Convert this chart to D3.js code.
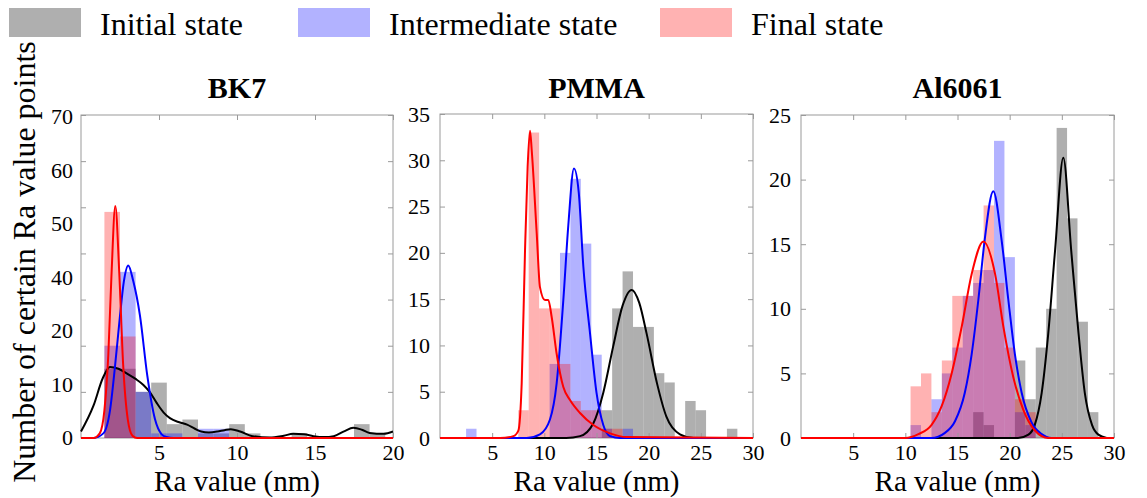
<!DOCTYPE html>
<html>
<head>
<meta charset="utf-8">
<script src="https://cdn.jsdelivr.net/npm/d3@7"></script>
<style>
  body { margin: 0; background: #fff; }
  text { font-family: "Liberation Serif", "Times New Roman", serif; fill: #000; }
</style>
</head>
<body>
<script>
var legendLabels = ["Initial state", "Intermediate state", "Final state"];
var panelTitles = ["BK7", "PMMA", "Al6061"];
var yTitle = "Number of certain Ra value points";
var xTitle = "Ra value (nm)";

// BK7 y labels as printed in the figure (they don't line up with the ticks)
var bk7YLabels = ["0", "10", "20", "40", "50", "60", "70"];

// histograms: [bin centre, count], bins 1 nm wide
var bk7Initial = [[2,15],[3,15],[4,10],[5,12],[6,3],[7,4],[8,1],[9,1],[10,3],[11,1],[14,1],[18,3],[19,1]];
var bk7Intermediate = [[2,20],[3,36],[4,10],[5,1],[6,1],[8,2],[9,2]];
var bk7Final = [[2,49],[3,22]];

var pmmaInitial = [[16,3],[17,14],[18,18],[19,12],[20,12],[21,7],[22,6],[24,4],[25,3],[28,1]];
var pmmaIntermediate = [[3,1],[11,8],[12,20],[13,28],[14,21],[15,9],[16,1],[18,1]];
var pmmaFinal = [[8,3],[9,33],[10,14],[11,14],[12,8],[13,4],[14,3],[15,3],[16,1],[17,1]];

var alInitial = [[17,2],[18,1],[21,6],[22,3],[23,7],[24,10],[25,24],[26,17],[27,9],[28,2]];
var alIntermediate = [[11,1],[13,3],[14,5],[15,7],[16,11],[17,12],[18,13],[19,23],[20,14],[21,2],[22,1]];
var alFinal = [[11,4],[12,5],[13,2],[14,6],[15,11],[16,11],[17,13],[18,18],[19,12],[20,7],[21,3],[22,2]];

// fitted curves: [x, y]
var bk7InitialCurve = [[0,1.4],[0.8,7],[1.4,13],[1.86,15.4],[2.4,15],[2.93,14],[3.5,12.8],[4.0,11.5],[4.4,10],[4.85,7.6],[5.3,5.5],[5.7,4.3],[6.3,3.4],[6.8,2.9],[7.3,2],[7.7,1.4],[8.2,1.2],[8.75,1.4],[9.2,1.7],[9.6,1.9],[10.2,1.4],[11,0.4],[12.1,0.1],[13,0.5],[13.6,0.9],[14.3,0.8],[14.9,0.4],[15.6,0.2],[16.2,0.4],[16.9,1.5],[17.45,2.2],[18,1.8],[18.5,1.1],[19.4,0.9],[20,1.4]];
var bk7IntermediateCurve = [[0,0],[0.79,0],[1.43,1],[1.86,6],[2.18,15.5],[2.5,26.5],[2.75,34],[3.03,37.4],[3.35,34],[3.78,26.5],[4.25,13.5],[4.74,4.1],[5.17,0.8],[5.49,0.2],[5.92,0],[20,0]];
var bk7FinalCurve = [[0,0],[0.8,0],[1.2,1],[1.5,6],[1.75,18],[1.95,35],[2.2,50.3],[2.45,36],[2.7,16],[3.0,4],[3.3,0.5],[3.6,0],[20,0]];

var pmmaInitialCurve = [[0,0],[12.1,0],[13.42,0.2],[14.7,1.6],[15.65,4.9],[16.6,9.9],[17.5,14.3],[18.37,16],[19.1,14.6],[19.8,11.3],[20.8,5.9],[21.7,2.3],[23,0.4],[24.3,0],[30,0]];
var pmmaIntermediateCurve = [[0,0],[8.3,0],[9.58,0.4],[10.54,2],[11.18,5.9],[11.82,14.9],[12.3,23],[12.84,29.1],[13.3,26.5],[13.74,18.5],[14.38,11.3],[15.0,4.9],[15.65,1.4],[16.3,0.2],[17.25,0],[30,0]];
var pmmaFinalCurve = [[0,0],[5.75,0],[7.03,0.2],[7.51,0.8],[7.83,5.9],[8.15,20.3],[8.4,29.3],[8.63,33.2],[8.79,31.1],[9.27,22.1],[9.58,16.3],[10.06,14.9],[10.38,14.9],[10.7,13.1],[11.18,9.1],[11.82,5.5],[12.46,4.1],[13.42,2.7],[14.7,1.4],[16.3,0.5],[17.9,0.1],[30,0]];

var alInitialCurve = [[0,0],[20.8,0],[21.8,0.26],[22.4,1],[23.07,3.5],[23.7,8.1],[24.35,14.5],[25.14,21.7],[25.9,14.5],[26.6,8.1],[27.2,3.5],[27.9,1],[28.5,0.26],[29.3,0]];
var alIntermediateCurve = [[0,0],[12.5,0],[13.8,0.4],[14.76,1.3],[15.7,3.5],[16.36,6.5],[17.0,10.7],[17.6,15.3],[18.43,19.1],[19.23,15.3],[19.87,10.7],[20.5,6.5],[21.15,3.5],[22.1,1.2],[23.07,0.3],[24,0],[30,0]];
var alFinalCurve = [[0,0],[10,0],[11.25,0.3],[12.5,1],[13.5,2.5],[14.44,5],[15.4,8.6],[16.36,12.7],[17.48,15.2],[18.6,12.7],[19.4,8.6],[20.35,4.7],[21.3,2.2],[22.4,0.6],[23.7,0],[30,0]];

var w = 1147;
var h = 498;

var svg = d3.select("body").append("svg")
  .attr("width", w)
  .attr("height", h);

var barFill = ["#7a7a7a", "#0000ff", "#ff0000"];
var barOpacity = [0.6, 0.3, 0.3];
var lineColor = ["#000", "#0000ff", "#ff0000"];

var panels = [
  { title: panelTitles[0], left: 81, right: 393, top: 115, bottom: 438, xMax: 20, yMax: 70,
    xTicks: [5, 10, 15, 20], yTicks: d3.range(0, 71, 10), yLabels: bk7YLabels,
    bars: [bk7Initial, bk7Intermediate, bk7Final],
    curves: [bk7InitialCurve, bk7IntermediateCurve, bk7FinalCurve] },
  { title: panelTitles[1], left: 440, right: 753, top: 114, bottom: 438, xMax: 30, yMax: 35,
    xTicks: [5, 10, 15, 20, 25, 30], yTicks: d3.range(0, 36, 5), yLabels: null,
    bars: [pmmaInitial, pmmaIntermediate, pmmaFinal],
    curves: [pmmaInitialCurve, pmmaIntermediateCurve, pmmaFinalCurve] },
  { title: panelTitles[2], left: 801, right: 1114, top: 115, bottom: 438, xMax: 30, yMax: 25,
    xTicks: [5, 10, 15, 20, 25, 30], yTicks: d3.range(0, 26, 5), yLabels: null,
    bars: [alInitial, alIntermediate, alFinal],
    curves: [alInitialCurve, alIntermediateCurve, alFinalCurve] }
];

panels.forEach(function(p) {
  var x = d3.scaleLinear().domain([0, p.xMax]).range([p.left, p.right]);
  var y = d3.scaleLinear().domain([0, p.yMax]).range([p.bottom, p.top]);
  var g = svg.append("g");

  // frame
  g.append("rect")
    .attr("x", p.left).attr("y", p.top)
    .attr("width", p.right - p.left).attr("height", p.bottom - p.top)
    .attr("fill", "none").attr("stroke", "#9a9a9a").attr("stroke-width", 1);

  // bars
  p.bars.forEach(function(data, k) {
    g.append("g").selectAll("rect")
      .data(data)
      .enter().append("rect")
      .attr("x", function(d) { return x(d[0] - 0.5); })
      .attr("width", function(d) { return x(d[0] + 0.5) - x(d[0] - 0.5); })
      .attr("y", function(d) { return y(d[1]); })
      .attr("height", function(d) { return y(0) - y(d[1]); })
      .attr("fill", barFill[k])
      .attr("fill-opacity", barOpacity[k]);
  });

  // inward ticks on all four sides
  var tickStyle = function(sel) {
    sel.attr("font-family", null);
    sel.select(".domain").remove();
    sel.selectAll(".tick line").attr("stroke", "#9a9a9a");
  };
  g.append("g").attr("transform", "translate(0," + p.bottom + ")")
    .call(d3.axisBottom(x).tickValues(p.xTicks).tickSize(-5).tickPadding(6))
    .call(tickStyle)
    .selectAll("text").attr("font-size", 22).attr("fill", "#000");
  g.append("g").attr("transform", "translate(0," + p.top + ")")
    .call(d3.axisTop(x).tickValues(p.xTicks).tickSize(-5).tickFormat(""))
    .call(tickStyle);
  var leftAxis = d3.axisLeft(y).tickValues(p.yTicks).tickSize(-5).tickPadding(10);
  if (p.yLabels) leftAxis.tickFormat("");
  g.append("g").attr("transform", "translate(" + p.left + ",0)")
    .call(leftAxis)
    .call(tickStyle)
    .selectAll("text").attr("font-size", 22).attr("fill", "#000");
  g.append("g").attr("transform", "translate(" + p.right + ",0)")
    .call(d3.axisRight(y).tickValues(p.yTicks).tickSize(-5).tickFormat(""))
    .call(tickStyle);

  if (p.yLabels) {
    var yl = d3.scalePoint().domain(p.yLabels).range([p.bottom, p.top + 2]);
    g.append("g").selectAll("text")
      .data(p.yLabels)
      .enter().append("text")
      .attr("x", p.left - 8)
      .attr("y", function(d) { return yl(d); })
      .attr("dy", "0.32em")
      .attr("text-anchor", "end")
      .attr("font-size", 22)
      .text(function(d) { return d; });
  }

  // curves
  var line = d3.line()
    .x(function(d) { return x(d[0]); })
    .y(function(d) { return y(d[1]); })
    .curve(d3.curveMonotoneX);
  p.curves.forEach(function(data, k) {
    g.append("path")
      .datum(data)
      .attr("d", line)
      .attr("fill", "none")
      .attr("stroke", lineColor[k])
      .attr("stroke-width", 2);
  });

  // title and x title
  g.append("text")
    .attr("x", (p.left + p.right) / 2).attr("y", 98)
    .attr("text-anchor", "middle")
    .attr("font-size", 30).attr("font-weight", "bold")
    .text(p.title);
  g.append("text")
    .attr("x", (p.left + p.right) / 2).attr("y", 491)
    .attr("text-anchor", "middle")
    .attr("font-size", 29)
    .text(xTitle);
});

svg.append("text")
  .attr("transform", "translate(35,262) rotate(-90)")
  .attr("text-anchor", "middle")
  .attr("font-size", 32)
  .text(yTitle);

// legend
var legendX = [9, 298, 660];
var legend = svg.append("g").selectAll("g")
  .data(legendLabels)
  .enter().append("g")
  .attr("transform", function(d, i) { return "translate(" + legendX[i] + ",0)"; });
legend.append("rect")
  .attr("x", 0).attr("y", 8)
  .attr("width", 72).attr("height", 29)
  .attr("fill", function(d, i) { return barFill[i]; })
  .attr("fill-opacity", function(d, i) { return barOpacity[i]; });
legend.append("text")
  .attr("x", 91).attr("y", 35)
  .attr("font-size", 32)
  .text(function(d) { return d; });
</script>
</body>
</html>
